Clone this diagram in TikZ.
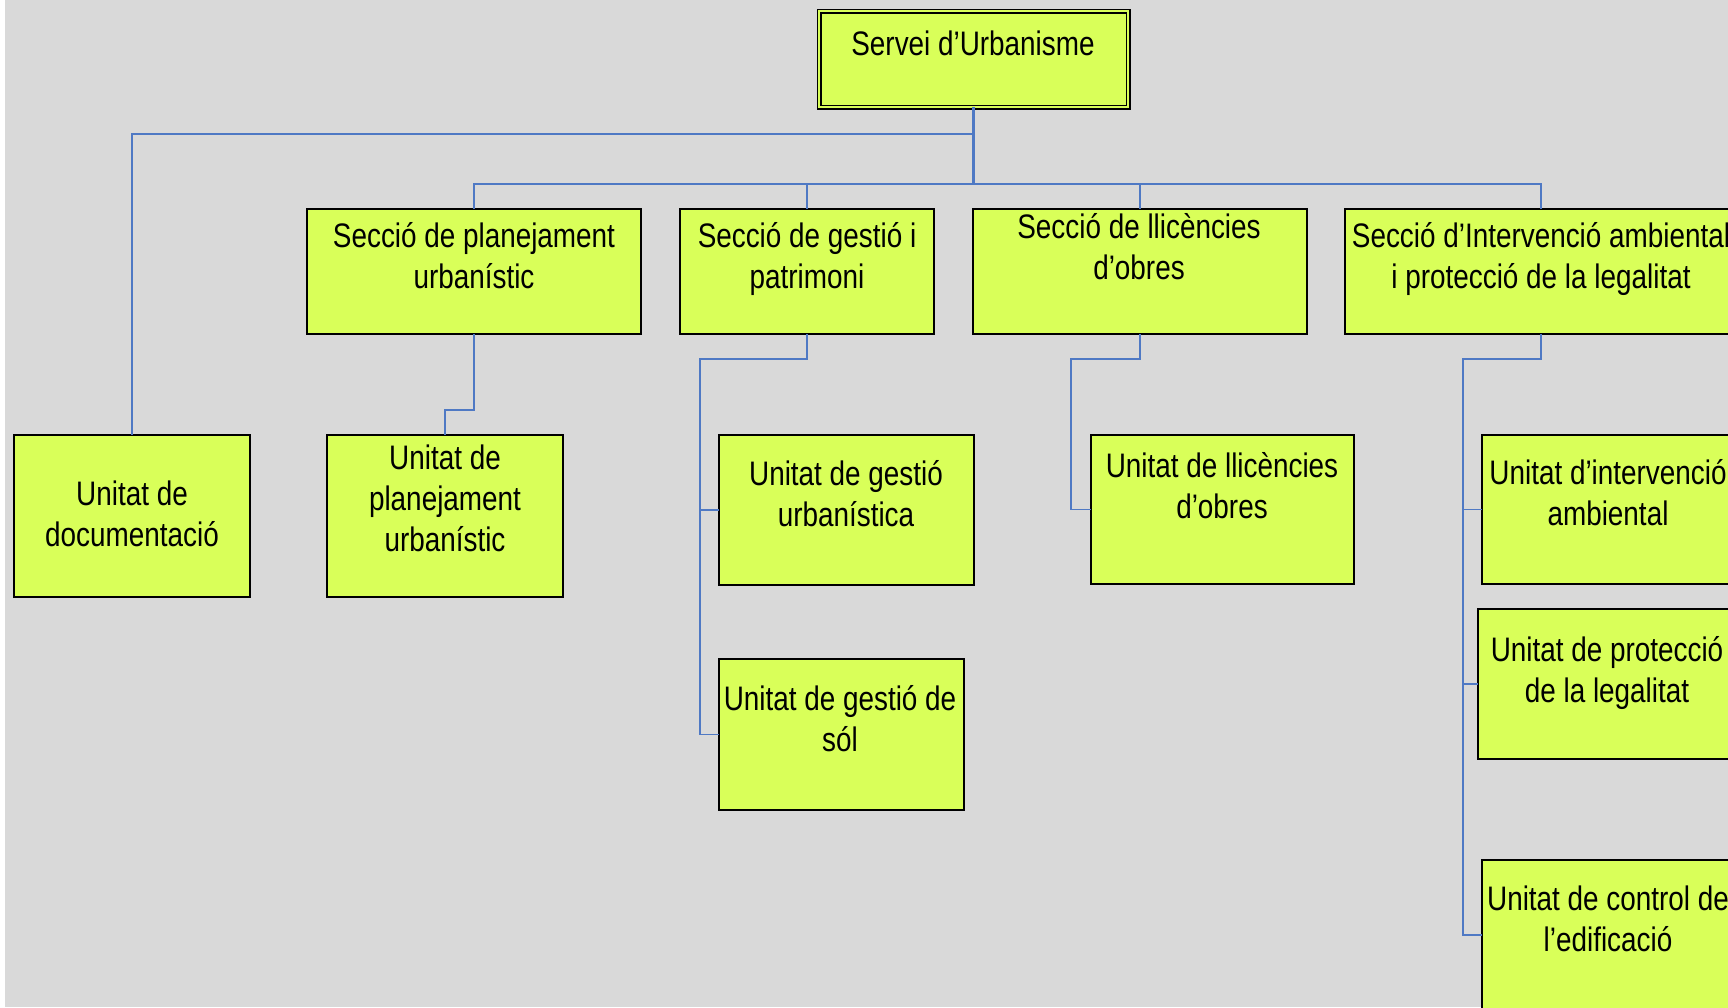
\documentclass[tikz,border=0pt]{standalone}
\usepackage{fontspec}
\setmainfont{Liberation Sans}[FakeStretch=0.82]
\begin{document}
\begin{tikzpicture}[x=1pt,y=-1pt,
  box/.style={draw=black,line width=1.3pt,fill=lime1,inner sep=0pt,outer sep=0pt},
  txt/.style={anchor=base,align=center,inner sep=0pt,font=\fontsize{34}{41}\selectfont},
  conn/.style={draw=connblue,line width=1.3pt},
  trunk/.style={draw=connblue,line width=2.2pt}]
\definecolor{bggray}{RGB}{217,217,217}
\definecolor{lime1}{RGB}{217,255,89}
\definecolor{connblue}{RGB}{79,121,196}
\useasboundingbox (0,0) rectangle (1728,1007);
\fill[bggray] (5,0) rectangle (1728,1007);

% boxes
\node[box,double=lime1,double distance=2.6pt,line width=1.2pt,minimum width=309pt,minimum height=96pt] (top) at (973.5,59) {};
\node[box,minimum width=334pt,minimum height=125pt] (s1) at (474,271.5) {};
\node[box,minimum width=254pt,minimum height=125pt] (s2) at (807,271.5) {};
\node[box,minimum width=334pt,minimum height=125pt] (s3) at (1140,271.5) {};
\node[box,minimum width=392pt,minimum height=125pt] (s4) at (1541,271.5) {};
\node[box,minimum width=236pt,minimum height=162pt] (doc) at (132,516) {};
\node[box,minimum width=236pt,minimum height=162pt] (upl) at (445,516) {};
\node[box,minimum width=255pt,minimum height=150pt] (gu) at (846.5,510) {};
\node[box,minimum width=245pt,minimum height=151pt] (gs) at (841.5,734.5) {};
\node[box,minimum width=263pt,minimum height=149pt] (ll) at (1222.5,509.5) {};
\node[box,minimum width=252pt,minimum height=149pt] (ia) at (1608,509.5) {};
\node[box,minimum width=259pt,minimum height=150pt] (pl) at (1607.5,684) {};
\node[box,minimum width=252pt,minimum height=150pt] (ce) at (1608,935) {};

% texts (anchor = baseline of the last line)
\node[txt] (topt) at (973,55) {Servei d’Urbanisme};
\node[txt] (s1t) at (474,288) {Secció de planejament\\urbanístic};
\node[txt] (s2t) at (807,288) {Secció de gestió i\\patrimoni};
\node[txt] (s3t) at (1139,279) {Secció de llicències\\d’obres};
\node[txt] (s4t) at (1541,288) {Secció d’Intervenció ambiental\\i protecció de la legalitat};
\node[txt] (doct) at (132,546) {Unitat de\\documentació};
\node[txt] (uplt) at (445,551) {Unitat de\\planejament\\urbanístic};
\node[txt] (gut) at (846,526) {Unitat de gestió\\urbanística};
\node[txt] (gst) at (840,751) {Unitat de gestió de\\sól};
\node[txt] (llt) at (1222,518) {Unitat de llicències\\d’obres};
\node[txt] (iat) at (1608,525) {Unitat d’intervenció\\ambiental};
\node[txt] (plt) at (1607,702) {Unitat de protecció\\de la legalitat};
\node[txt] (cet) at (1608,951) {Unitat de control de\\l’edificació};

% junctions
\coordinate (bus) at (973.5,184);
\coordinate (docj) at (973.5,134);
\coordinate (s2j) at (700,359);
\coordinate (s3j) at (1071,359);
\coordinate (s4j) at (1463,359);

% connectors
\draw[conn] (doc.north) |- (docj);
\draw[conn] (s1.north) |- (bus);
\draw[conn] (s2.north) |- (bus);
\draw[conn] (s3.north) |- (bus);
\draw[conn] (s4.north) |- (bus);
\draw[trunk] (top.south) -- (bus);
\draw[conn] (s1.south) -- ++(0,76) -| (upl.north);
\draw[conn] (s2.south) |- (s2j) |- (gu.west);
\draw[conn] (s2j) |- (gs.west);
\draw[conn] (s3.south) |- (s3j) |- (ll.west);
\draw[conn] (s4.south) |- (s4j) |- (ce.west);
\draw[conn] (s4j) |- (ia.west);
\draw[conn] (s4j) |- (pl.west);
\end{tikzpicture}
\end{document}
